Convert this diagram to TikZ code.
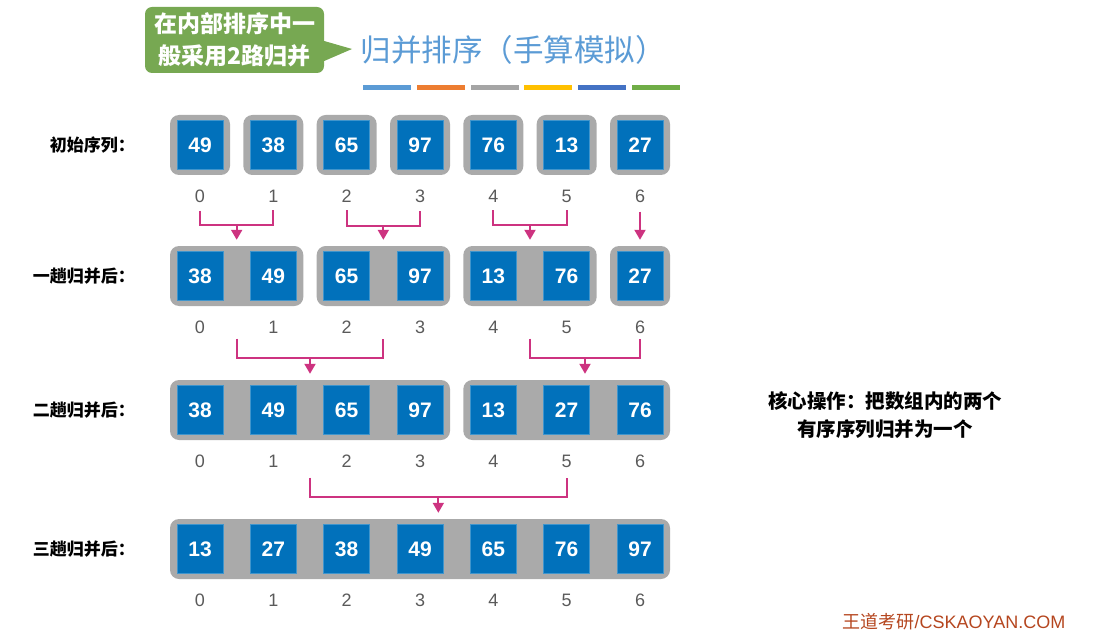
\documentclass[tikz,border=0pt]{standalone}
\usepackage{fontspec}
\setmainfont{Liberation Sans}
\newfontfamily\cjk{Noto Sans CJK SC}
\usetikzlibrary{arrows.meta,calc}
\definecolor{cellblue}{HTML}{0171BB}
\definecolor{slotgray}{HTML}{AAAAAA}
\definecolor{linkpink}{HTML}{CD3380}
\definecolor{titleblue}{HTML}{5B9BD5}
\definecolor{notegreen}{HTML}{77A852}
\definecolor{idxgray}{HTML}{5A5A5A}
\definecolor{footred}{HTML}{B5461F}
\definecolor{barblue}{HTML}{5B9BD5}
\definecolor{barorange}{HTML}{ED7D31}
\definecolor{bargray}{HTML}{A5A5A5}
\definecolor{baryellow}{HTML}{FFC000}
\definecolor{bardark}{HTML}{4472C4}
\definecolor{bargreen}{HTML}{70AD47}

\begin{document}
\begin{tikzpicture}[
  x=1pt, y=-1pt,
  >=Stealth,
  slot/.style={
    fill=slotgray,
    rounded corners=9pt,
    minimum height=60pt,
    inner sep=0pt
  },
  cell/.style={
    fill=cellblue,
    draw=cellblue!75!white,
    line width=0.6pt,
    minimum width=46pt,
    minimum height=49pt,
    inner sep=0pt,
    text=white,
    font=\bfseries\fontsize{21}{21}\selectfont
  },
  idx/.style={
    inner sep=0pt,
    text=idxgray,
    font=\fontsize{18}{18}\selectfont
  },
  rowlabel/.style={
    anchor=east,
    inner sep=0pt,
    font=\cjk\bfseries\fontsize{17}{17}\selectfont
  },
  link/.style={
    draw=linkpink,
    line width=2pt
  },
  arr/.style={
    link,
    -{Triangle[width=11pt,length=10pt]},
    shorten >=6pt
  }
]
  \useasboundingbox (0,0) rectangle (1099,639);

  % Callout and title
  \node[fill=notegreen, rounded corners=7pt, minimum width=179pt, minimum height=66pt,
        align=center, text=white, font=\cjk\bfseries\fontsize{23}{32}\selectfont] (note) at (234.5,40) {在内部排序中一\\般采用2路归并};
  \coordinate (tip) at (352,49);
  \fill[notegreen] ([yshift=-1pt]note.east) -- (tip) -- ([yshift=-21pt]note.east) -- ++(-4,0) -- ([xshift=-4pt,yshift=-1pt]note.east) -- cycle;
  \node[text=titleblue, inner sep=0pt, font=\cjk\fontsize{30.5}{30.5}\selectfont] (title) at (513,50) {归并排序（手算模拟）};
  \foreach \c [count=\k from 0] in {barblue,barorange,bargray,baryellow,bardark,bargreen}
    \fill[\c] ({363+53.8*\k},85) rectangle ++(48,5);

  % Row labels
  \node[rowlabel] (l1) at (135,145) {初始序列：};
  \node[rowlabel] (l2) at (135,276) {一趟归并后：};
  \node[rowlabel] (l3) at (135,410) {二趟归并后：};
  \node[rowlabel] (l4) at (135,549) {三趟归并后：};

  % Gray slots (runs)
  \foreach \a/\b/\g in {0/0/a,1/1/b,2/2/c,3/3/d,4/4/e,5/5/f,6/6/g}
    \node[slot, minimum width={60+73.333*(\b-\a)}] (g1\g) at ({200+73.333*(\a+\b)/2},145) {};
  \foreach \a/\b/\g in {0/1/a,2/3/b,4/5/c,6/6/d}
    \node[slot, minimum width={60+73.333*(\b-\a)}] (g2\g) at ({200+73.333*(\a+\b)/2},276) {};
  \foreach \a/\b/\g in {0/3/a,4/6/b}
    \node[slot, minimum width={60+73.333*(\b-\a)}] (g3\g) at ({200+73.333*(\a+\b)/2},410) {};
  \node[slot, minimum width=500pt] (g4a) at (420,549) {};

  % Cells and indices
  \foreach \v [count=\i from 0] in {49,38,65,97,76,13,27} {
    \node[cell] (c1-\i) at ({200+73.333*\i},145) {\v};
    \node[idx] (n1-\i) at ({200+73.333*\i},196) {\i};
  }
  \foreach \v [count=\i from 0] in {38,49,65,97,13,76,27} {
    \node[cell] (c2-\i) at ({200+73.333*\i},276) {\v};
    \node[idx] (n2-\i) at ({200+73.333*\i},327) {\i};
  }
  \foreach \v [count=\i from 0] in {38,49,65,97,13,27,76} {
    \node[cell] (c3-\i) at ({200+73.333*\i},410) {\v};
    \node[idx] (n3-\i) at ({200+73.333*\i},461) {\i};
  }
  \foreach \v [count=\i from 0] in {13,27,38,49,65,76,97} {
    \node[cell] (c4-\i) at ({200+73.333*\i},549) {\v};
    \node[idx] (n4-\i) at ({200+73.333*\i},600) {\i};
  }

  % Pass 1 merges
  \coordinate (j1a) at ($(n1-0.south)!.5!(n1-1.south)+(0,23)$);
  \coordinate (j1b) at ($(n1-2.south)!.5!(n1-3.south)+(0,23)$);
  \coordinate (j1c) at ($(n1-4.south)!.5!(n1-5.south)+(0,23)$);
  \draw[link] ($(n1-0.south)+(0,8)$) |- (j1a) -| ($(n1-1.south)+(0,8)$);
  \draw[link] ($(n1-2.south)+(0,8)$) |- (j1b) -| ($(n1-3.south)+(0,8)$);
  \draw[link] ($(n1-4.south)+(0,8)$) |- (j1c) -| ($(n1-5.south)+(0,8)$);
  \draw[arr] (j1a) -- (j1a |- g2a.north);
  \draw[arr] (j1b) -- (j1b |- g2b.north);
  \draw[arr] (j1c) -- (j1c |- g2c.north);
  \draw[arr] ($(n1-6.south)+(0,9)$) -- (n1-6 |- g2d.north);

  % Pass 2 merges
  \coordinate (j2a) at ($(g2a |- n2-0.south)!.5!(g2b |- n2-0.south)+(0,24)$);
  \coordinate (j2b) at ($(g2c |- n2-0.south)!.5!(n2-6.south)+(0,24)$);
  \draw[link] ($(g2a |- n2-0.south)+(0,5)$) |- (j2a) -| ($(g2b |- n2-0.south)+(0,5)$);
  \draw[link] ($(g2c |- n2-0.south)+(0,5)$) |- (j2b) -| ($(n2-6.south)+(0,5)$);
  \draw[arr] (j2a) -- (j2a |- g3a.north);
  \draw[arr] (j2b) -- (j2b |- g3b.north);

  % Pass 3 merge
  \coordinate (j3a) at ($(g3a |- n3-0.south)!.5!(g3b |- n3-0.south)+(0,29)$);
  \draw[link] ($(g3a |- n3-0.south)+(0,10)$) |- (j3a) -| ($(g3b |- n3-0.south)+(0,10)$);
  \draw[arr] (j3a) -- (j3a |- g4a.north);

  % Side note and footer
  \node[align=center, inner sep=0pt, font=\cjk\bfseries\fontsize{19.5}{28}\selectfont] (core) at (885,415) {核心操作：把数组内的两个\\有序序列归并为一个};
  \node[text=footred, inner sep=0pt, font=\fontsize{18}{18}\selectfont] (foot) at (954,622) {{\cjk 王道考研}/CSKAOYAN.COM};
\end{tikzpicture}
\end{document}
